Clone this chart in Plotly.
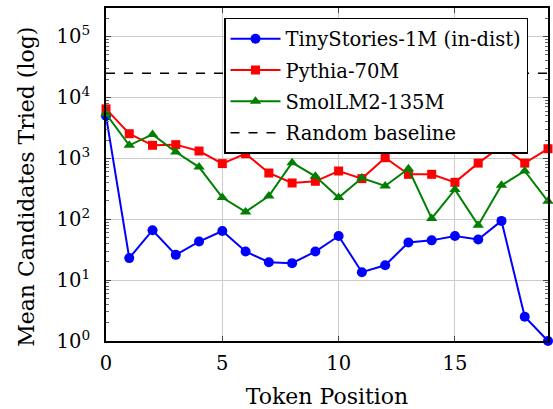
import plotly.graph_objects as go

positions = list(range(20))
tinystories = [5000, 23, 66, 26, 43, 64, 29.5, 19.7, 19, 29.5, 53, 13.5, 17.5, 41.5, 45, 53, 46.5, 94, 2.5, 1]
pythia = [6500, 2540, 1640, 1680, 1320, 820, 1195, 575, 394, 420, 620, 465, 1026, 547, 547, 404, 835, 1600, 835, 1440]
smollm = [5400, 1640, 2475, 1270, 720, 227, 132, 241, 850, 507, 227, 475, 352, 676, 103, 307, 80, 361, 620, 197]
random_baseline = 25000

FONT = "DejaVu Serif"

fig = go.Figure()
fig.add_trace(go.Scatter(x=positions, y=tinystories, mode="lines+markers",
                         name="TinyStories-1M (in-dist)", legendgroup="a", cliponaxis=False,
                         line=dict(color="#0000ff", width=2),
                         marker=dict(symbol="circle", size=10, color="#0000ff")))
fig.add_trace(go.Scatter(x=positions, y=pythia, mode="lines+markers",
                         name="Pythia-70M", legendgroup="b", cliponaxis=False,
                         line=dict(color="#ff0000", width=2),
                         marker=dict(symbol="square", size=9, color="#ff0000")))
fig.add_trace(go.Scatter(x=positions, y=smollm, mode="lines+markers",
                         name="SmolLM2-135M", legendgroup="c", cliponaxis=False,
                         line=dict(color="#008000", width=2),
                         marker=dict(symbol="triangle-up", size=10, color="#008000")))
fig.add_trace(go.Scatter(x=[positions[0], positions[-1]], y=[random_baseline, random_baseline],
                         mode="lines", name="Random baseline", legendgroup="d",
                         line=dict(color="black", width=1.5, dash="dash")))

tickvals = [1, 10, 100, 1000, 10000, 100000]
ticktext = ["10<sup>%d</sup>" % i for i in range(6)]

fig.update_layout(
    width=553, height=409,
    margin=dict(l=106, r=5, t=8, b=68, autoexpand=False),
    paper_bgcolor="white", plot_bgcolor="white",
    font=dict(family=FONT, size=19, color="black"),
    showlegend=True,
    legend=dict(x=0.267, xanchor="left", y=0.97, yanchor="top",
                bgcolor="white", bordercolor="black", borderwidth=1.5,
                font=dict(family=FONT, size=19.5), tracegroupgap=3,
                itemwidth=50),
    xaxis=dict(range=[0, 19], tickvals=[0, 5, 10, 15],
               showgrid=True, gridcolor="#cccccc", gridwidth=1,
               ticks="inside", ticklen=5, tickcolor="#444",
               showline=True, linecolor="black", linewidth=2, mirror="ticks",
               zeroline=False, ticklabelstandoff=4,
               title=dict(text="Token Position", font=dict(size=22), standoff=18),
               tickfont=dict(size=19.5)),
    yaxis=dict(type="log", range=[0, 5.47], tickvals=tickvals, ticktext=ticktext,
               showgrid=True, gridcolor="#cccccc", gridwidth=1,
               ticks="inside", ticklen=5, tickcolor="#444",
               minor=dict(ticks="inside", ticklen=3, tickcolor="#666", dtick="D1", showgrid=False),
               showline=True, linecolor="black", linewidth=2, mirror="ticks",
               zeroline=False, ticklabelstandoff=10,
               tickfont=dict(size=19.5)),
    annotations=[dict(text="Mean Candidates Tried (log)", textangle=-90,
                      xref="paper", yref="paper", x=-0.179, y=0.4625,
                      xanchor="center", yanchor="middle", showarrow=False,
                      font=dict(family=FONT, size=22))],
)

fig.write_html("out.html", config={"displayModeBar": False},
               post_script="document.body.style.margin='0';document.body.style.overflow='hidden';")
